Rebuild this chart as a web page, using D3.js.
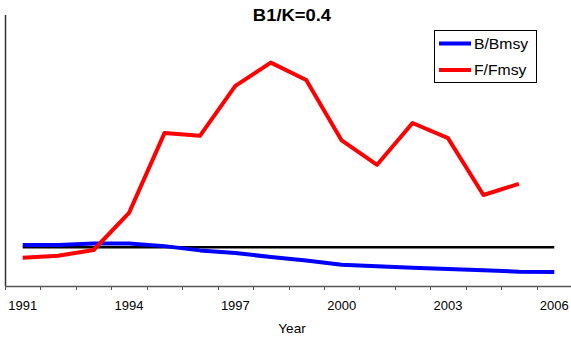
<!DOCTYPE html>
<html><head><meta charset="utf-8">
<script src="https://cdn.jsdelivr.net/npm/d3@7"></script>
<style>body{margin:0;background:#fff}svg{display:block}text{font-family:"Liberation Sans",Arial,sans-serif;fill:#000}</style>
</head><body>
<script>
const years = [1991,1992,1993,1994,1995,1996,1997,1998,1999,2000,2001,2002,2003,2004,2005,2006];
const bBmsy = [1.06,1.06,1.10,1.10,1.03,0.92,0.85,0.75,0.66,0.55,0.51,0.47,0.44,0.41,0.37,0.36];
const fFmsy = [0.73,0.78,0.93,1.89,3.95,3.88,5.17,5.77,5.32,3.76,3.13,4.21,3.82,2.35,2.64,null];
const refLine = 1;
const tickLabels = [1991,1994,1997,2000,2003,2006];
const title = "B1/K=0.4";
const xTitle = "Year";
const seriesNames = ["B/Bmsy","F/Fmsy"];

const W=571,H=343;
const svg=d3.select("body").append("svg").attr("width",W).attr("height",H);
const x=d3.scaleBand().domain(years).range([5,572]);
const y=d3.scaleLinear().domain([0,7]).range([286,15]);
const cx=d=>x(d)+x.bandwidth()/2;

// y axis line
svg.append("line").attr("x1",5.5).attr("x2",5.5).attr("y1",15).attr("y2",286).attr("stroke","#333").attr("stroke-width",1.5);
// x axis
svg.append("line").attr("x1",5).attr("x2",572).attr("y1",286.5).attr("y2",286.5).attr("stroke","#555").attr("stroke-width",1.3);
svg.selectAll(".tk").data(years.concat([2007])).enter().append("line")
  .attr("x1",(d,i)=>Math.round(5+i*x.step())+0.5).attr("x2",(d,i)=>Math.round(5+i*x.step())+0.5)
  .attr("y1",286).attr("y2",290).attr("stroke","#555").attr("stroke-width",1);
svg.selectAll(".tl").data(tickLabels).enter().append("text")
  .attr("x",d=>cx(d)).attr("y",310).attr("text-anchor","middle").attr("font-size",13)
  .text(d=>d);
svg.append("text").attr("x",292).attr("y",333).attr("text-anchor","middle").attr("font-size",13)
  .attr("transform","translate(292,0) scale(1.05,1) translate(-292,0)").text(xTitle);
svg.append("text").attr("x",292).attr("y",21).attr("text-anchor","middle").attr("font-size",16).attr("font-weight","bold")
  .attr("transform","translate(292,0) scale(1.15,1) translate(-292,0)").text(title);

// reference line
svg.append("line").attr("x1",cx(1991)).attr("x2",cx(2006)).attr("y1",y(refLine)).attr("y2",y(refLine)).attr("stroke","#000").attr("stroke-width",2.5);

const line=d3.line().defined(d=>d[1]!=null).x(d=>cx(d[0])).y(d=>y(d[1]));
svg.append("path").datum(years.map((yr,i)=>[yr,bBmsy[i]])).attr("d",line).attr("fill","none").attr("stroke","#0000ff").attr("stroke-width",4).attr("stroke-linejoin","round");
svg.append("path").datum(years.map((yr,i)=>[yr,fFmsy[i]])).attr("d",line).attr("fill","none").attr("stroke","#ff0000").attr("stroke-width",4).attr("stroke-linejoin","round");

// legend
const lg=svg.append("g");
lg.append("rect").attr("x",434.5).attr("y",30.5).attr("width",102).attr("height",52).attr("fill","#fff").attr("stroke","#000").attr("stroke-width",1);
const colors=["#0000ff","#ff0000"];
seriesNames.forEach((n,i)=>{
  const yy=43.5+i*26.5;
  lg.append("line").attr("x1",439).attr("x2",471).attr("y1",yy).attr("y2",yy).attr("stroke",colors[i]).attr("stroke-width",4);
  lg.append("text").attr("x",474).attr("y",yy+5.5).attr("font-size",15)
    .attr("transform",`translate(474,0) scale(1.05,1) translate(-474,0)`).text(n);
});
</script>
</body></html>
